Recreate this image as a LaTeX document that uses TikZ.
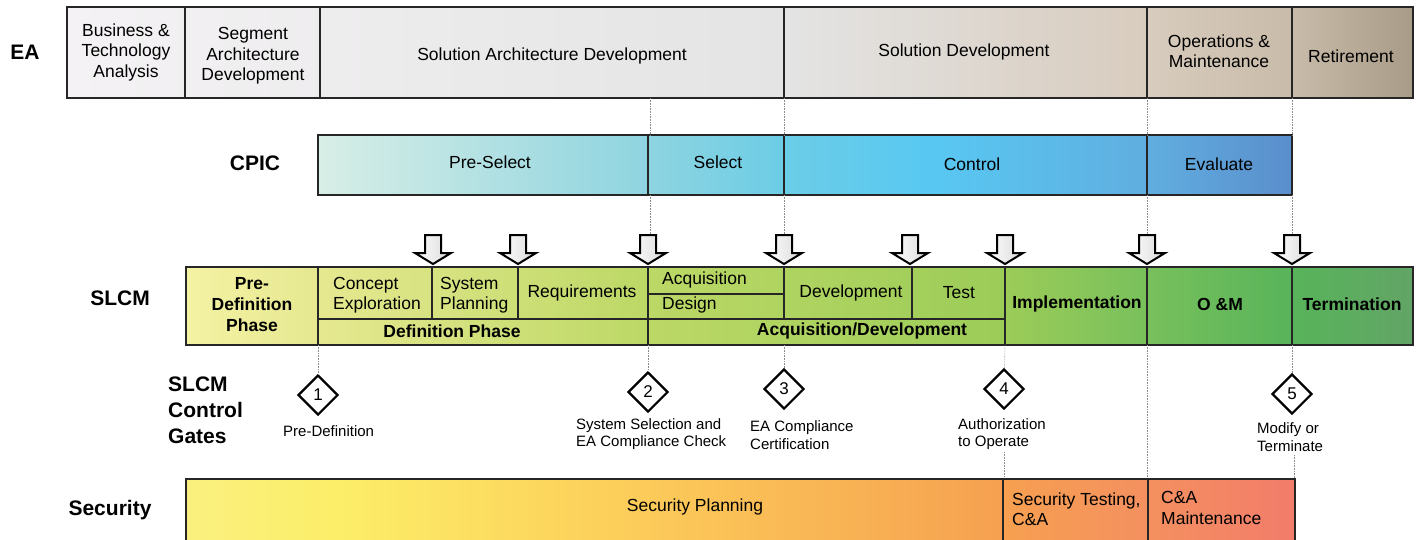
\documentclass[tikz,border=0pt]{standalone}
\usepackage{fontspec}
\setmainfont{Liberation Sans}
\usetikzlibrary{positioning,shapes.geometric,arrows.meta}
\definecolor{eaA}{HTML}{F4F2F4}
\definecolor{eaB}{HTML}{E4E4E4}
\definecolor{eaC}{HTML}{D8CCBE}
\definecolor{eaD}{HTML}{C8BBA9}
\definecolor{eaE}{HTML}{A89C88}
\definecolor{cpA}{HTML}{D8EEE6}
\definecolor{cpB}{HTML}{8ED4E0}
\definecolor{cpC}{HTML}{6CCDE6}
\definecolor{cpD}{HTML}{58C8F2}
\definecolor{cpE}{HTML}{60AEE0}
\definecolor{cpF}{HTML}{5A8ECC}
\definecolor{slA}{HTML}{F4F2A4}
\definecolor{slB}{HTML}{E6E890}
\definecolor{slC}{HTML}{BCD866}
\definecolor{slD}{HTML}{9CCC58}
\definecolor{slE}{HTML}{78C05C}
\definecolor{slF}{HTML}{58B45A}
\definecolor{slG}{HTML}{62A466}
\definecolor{seA}{HTML}{FAF080}
\definecolor{seB}{HTML}{FCEE68}
\definecolor{seC}{HTML}{FCCE5A}
\definecolor{seD}{HTML}{F6A050}
\definecolor{seE}{HTML}{F49060}
\definecolor{seF}{HTML}{F27C6A}
\tikzset{
  rowlabel/.style={font=\fontsize{21}{26}\selectfont\bfseries, align=left, inner sep=0pt},
  cell/.style={font=\fontsize{17.5}{20.5}\selectfont, align=center, inner sep=0pt},
  bcell/.style={cell, font=\fontsize{17.5}{21}\selectfont\bfseries},
  lcell/.style={cell, align=left, anchor=west},
  gate/.style={draw, diamond, line width=2.2pt, minimum size=40pt, inner sep=0pt, fill=white, font=\fontsize{17}{17}\selectfont},
  gatetext/.style={font=\fontsize{15}{17.5}\selectfont, align=left, anchor=west, inner sep=0pt},
  guide/.style={densely dotted, black!45, line width=0.6pt},
  frame/.style={draw=black!85, line width=1.6pt},
  divider/.style={draw=black!85, line width=1.1pt},
  gatearrow/.pic={\shadedraw[line width=2pt, line join=miter, left color=white, right color=black!15]
    (-8,0) -- (8,0) -- (8,18) -- (18,18) -- (0,29) -- (-18,18) -- (-8,18) -- cycle;}
}
\begin{document}
\begin{tikzpicture}[x=1pt,y=-1pt]
\useasboundingbox (0,0) rectangle (1419,539);
% EA row
\shade[left color=eaA,right color=eaB] (67,7) rectangle (784,98);
\shade[left color=eaB,right color=eaC] (784,7) rectangle (1147,98);
\shade[left color=eaC,right color=eaD] (1147,7) rectangle (1292,98);
\shade[left color=eaD,right color=eaE] (1292,7) rectangle (1413,98);
\draw[frame] (67,7) rectangle (1413,98);
\foreach \dx in {185,320,784,1147,1292} \draw[frame] (\dx,7) -- (\dx,98);
\node[rowlabel] (ea) at (25,52) {EA};
\node[cell] (bta) at (126,52) {Business \&\\Technology\\Analysis};
\node[cell] (sad) at (253,56) {Segment\\Architecture\\Development};
\node[cell] (solad) at (552,56) {Solution Architecture Development};
\node[cell] (sold) at (964,52) {Solution Development};
\node[cell] (opm) at (1219,51) {Operations \&\\Maintenance};
\node[cell] (ret) at (1351,56) {Retirement};
% CPIC row
\shade[left color=cpA,right color=cpB] (318,135) rectangle (648,195);
\shade[left color=cpB,right color=cpC] (648,135) rectangle (784,195);
\shade[left color=cpC,right color=cpD] (784,135) rectangle (930,195);
\shade[left color=cpD,right color=cpE] (930,135) rectangle (1147,195);
\shade[left color=cpE,right color=cpF] (1147,135) rectangle (1292,195);
\draw[frame] (318,135) rectangle (1292,195);
\foreach \dx in {648,784,1147} \draw[divider] (\dx,135) -- (\dx,195);
\node[rowlabel] (cpic) at (255,163) {CPIC};
\node[cell] (pres) at (490,162) {Pre-Select};
\node[cell] (sel) at (718,162) {Select};
\node[cell] (ctl) at (972,164) {Control};
\node[cell] (evl) at (1219,164) {Evaluate};
% guides EA to CPIC to arrows
\foreach \dx in {650,784,1147,1292} {
  \draw[guide] (\dx,98) -- (\dx,135);
  \draw[guide] (\dx,195) -- (\dx,235);
}
% arrows
\foreach \ax in {433,518,648,784,910,1005,1147,1292} \pic at (\ax,235) {gatearrow};
% SLCM row
\shade[left color=slA,right color=slB] (186,267) rectangle (318,345);
\shade[left color=slB,right color=slC] (318,267) rectangle (648,345);
\shade[left color=slC,right color=slD] (648,267) rectangle (1005,345);
\shade[left color=slD,right color=slE] (1005,267) rectangle (1147,345);
\shade[left color=slE,right color=slF] (1147,267) rectangle (1292,345);
\shade[left color=slF,right color=slG] (1292,267) rectangle (1413,345);
\draw[frame] (186,267) rectangle (1413,345);
\foreach \dx in {318,648,1005,1147,1292} \draw[divider] (\dx,267) -- (\dx,345);
\foreach \dx in {432,518,784,912} \draw[divider] (\dx,267) -- (\dx,319);
\draw[divider] (318,319) -- (1005,319);
\draw[divider] (648,294) -- (784,294);
\node[rowlabel] (slcm) at (120,298) {SLCM};
\node[bcell] (pdp) at (252,305) {Pre-\\Definition\\Phase};
\node[lcell] (cex) at (333,295) {Concept\\Exploration};
\node[lcell] (spl) at (440,295) {System\\Planning};
\node[cell] (req) at (582,293) {Requirements};
\node[lcell] (acq) at (662,280) {Acquisition};
\node[lcell] (dsg) at (662,305) {Design};
\node[cell] (dev) at (851,293) {Development};
\node[cell] (tst) at (959,293) {Test};
\node[bcell] (dph) at (452,331) {Definition Phase};
\node[bcell] (adv) at (862,331) {Acquisition/Development};
\node[bcell] (imp) at (1077,304) {Implementation};
\node[bcell] (om) at (1220,304) {O \&M};
\node[bcell] (ter) at (1352,304) {Termination};
% control gates
\node[rowlabel] (scg) at (168,410) [anchor=west] {SLCM\\Control\\Gates};
\node[gate] (g1) at (318,395) {1};
\node[gate] (g2) at (648,392) {2};
\node[gate] (g3) at (784,389) {3};
\node[gate] (g4) at (1004,389) {4};
\node[gate] (g5) at (1292,394) {5};
\node[gatetext] (t1) at (283,431) {Pre-Definition};
\node[gatetext] (t2) at (576,434) {System Selection and\\EA Compliance Check};
\node[gatetext] (t3) at (750,435) {EA Compliance\\Certification};
\node[gatetext] (t4) at (958,434) {Authorization\\to Operate};
\node[gatetext] (t5) at (1257,437) {Modify or\\Terminate};
\coordinate (s1) at (318,345); \coordinate (s2) at (648,345);
\coordinate (s3) at (784,345); \coordinate (s4) at (1005,345);
\coordinate (s5) at (1292,345); \coordinate (s6) at (1147,345);
\coordinate (q4) at (1004,479); \coordinate (q5) at (1294,479);
\coordinate (q6) at (1147,479);
\draw[guide] (s1) -- (g1); \draw[guide] (s2) -- (g2);
\draw[guide] (s3) -- (g3); \draw[guide] (s4) -- (g4);
\draw[guide] (s5) -- (g5); \draw[guide] (s6) -- (q6);
\draw[guide] (1004,452) -- (q4); \draw[guide] (1294,455) -- (q5);
% Security row
\shade[left color=seA,right color=seB] (186,479) rectangle (340,545);
\shade[left color=seB,right color=seC] (340,479) rectangle (620,545);
\shade[left color=seC,right color=seD] (620,479) rectangle (1003,545);
\shade[left color=seD,right color=seE] (1003,479) rectangle (1148,545);
\shade[left color=seE,right color=seF] (1148,479) rectangle (1295,545);
\draw[frame] (186,545) -- (186,479) -- (1295,479) -- (1295,545);
\foreach \dx in {1003,1148} \draw[divider] (\dx,479) -- (\dx,545);
\node[rowlabel] (sec) at (110,510) {Security};
\node[cell] (spn) at (695,507) {Security Planning};
\node[lcell] (stc) at (1012,509) {Security Testing,\\C\&A};
\node[lcell] (cam) at (1161,508) {C\&A\\Maintenance};
\end{tikzpicture}
\end{document}
